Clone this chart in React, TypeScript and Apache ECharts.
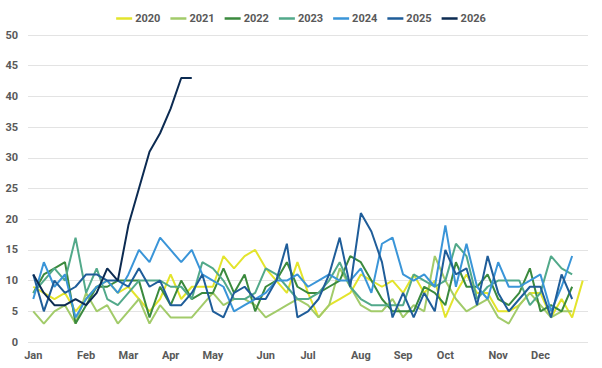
import React, { useEffect, useRef } from "react";
import * as echarts from "echarts";

const years = ["2020", "2021", "2022", "2023", "2024", "2025", "2026"];
const colors = ["#e3e42c", "#a2cb6a", "#3b8a3e", "#52a98a", "#3a95d8", "#1f5d99", "#0c2b52"];

const monthLabels = ["Jan", "Feb", "Mar", "Apr", "May", "Jun", "Jul", "Aug", "Sep", "Oct", "Nov", "Dec"];
const monthStartWeek = [0, 5, 9, 13, 17, 22, 26, 31, 35, 39, 44, 48];
const weekCount = 53;

const v2020 = [9, 8, 7, 8, 5, 7, 9, 10, 8, 9, 7, 5, 7, 11, 7, 9, 9, 9, 14, 12, 14, 15, 12, 10, 8, 13, 8, 4, 6, 7, 8, 11, 10, 9, 10, 8, 11, 8, 10, 4, 8, 11, 8, 8, 5, 5, 6, 8, 8, 4, 7, 4, 10];
const v2021 = [5, 3, 5, 6, 3, 8, 5, 6, 3, 5, 7, 3, 6, 4, 4, 4, 6, 8, 6, 7, 7, 6, 4, 5, 6, 7, 6, 4, 6, 12, 9, 6, 5, 5, 7, 4, 6, 5, 14, 10, 7, 5, 6, 7, 4, 3, 6, 8, 6, 4, 5, 5];
const v2022 = [8, 11, 12, 13, 3, 6, 9, 9, 10, 10, 10, 4, 9, 6, 10, 7, 8, 8, 12, 8, 11, 5, 9, 10, 13, 9, 8, 8, 9, 10, 14, 13, 10, 7, 5, 5, 5, 9, 8, 6, 13, 9, 9, 11, 7, 6, 8, 12, 5, 6, 5, 9];
const v2023 = [8, 10, 12, 10, 17, 8, 12, 7, 6, 8, 10, 10, 10, 9, 9, 7, 13, 12, 10, 7, 7, 8, 12, 11, 9, 7, 7, 8, 10, 13, 9, 7, 6, 6, 6, 6, 11, 10, 9, 10, 16, 14, 7, 9, 10, 10, 10, 6, 8, 14, 12, 11];
const v2024 = [7, 13, 9, 11, 4, 7, 9, 10, 8, 11, 15, 13, 17, 15, 13, 15, 11, 10, 9, 5, 6, 7, 8, 10, 10, 11, 9, 10, 11, 10, 10, 12, 8, 16, 17, 11, 10, 11, 9, 19, 9, 16, 9, 7, 13, 9, 9, 10, 11, 5, 9, 14];
const v2025 = [11, 5, 10, 8, 9, 11, 11, 10, 10, 9, 12, 9, 10, 6, 6, 8, 11, 5, 4, 8, 9, 7, 7, 10, 16, 4, 5, 7, 11, 17, 9, 21, 18, 13, 4, 8, 4, 8, 5, 15, 11, 12, 6, 14, 8, 5, 7, 9, 9, 4, 11, 7];
const v2026 = [11, 8, 6, 6, 7, 6, 8, 12, 10, 19, 25, 31, 34, 38, 43, 43];

const seriesValues = [v2020, v2021, v2022, v2023, v2024, v2025, v2026];

const yTicks = { min: 0, max: 50, interval: 5 };

export default function App() {
  const ref = useRef<HTMLDivElement>(null);
  useEffect(() => {
    if (!ref.current) return;
    const chart = echarts.init(ref.current, null, { renderer: "svg" });
    const categories: string[] = [];
    for (let i = 0; i < weekCount; i++) {
      const m = monthStartWeek.indexOf(i);
      categories.push(m >= 0 ? monthLabels[m] : "");
    }
    const labelStyle = { color: "#595959", fontFamily: "Roboto", fontWeight: "bold" as const, fontSize: 11 };
    chart.setOption({
      animation: false,
      color: colors,
      legend: {
        top: 8,
        left: "center",
        icon: "rect",
        itemWidth: 16,
        itemHeight: 2.5,
        itemGap: 10,
        textStyle: { ...labelStyle, padding: [0, 0, 0, -2] },
        data: years,
      },
      grid: { left: 28, right: 14, top: 35, bottom: 26 },
      xAxis: {
        type: "category",
        data: categories,
        boundaryGap: true,
        axisLine: { show: false },
        axisTick: { show: false },
        axisLabel: { ...labelStyle, interval: 0, margin: 8 },
        splitLine: { show: false },
      },
      yAxis: {
        type: "value",
        min: yTicks.min,
        max: yTicks.max,
        interval: yTicks.interval,
        axisLine: { show: false },
        axisTick: { show: false },
        axisLabel: { ...labelStyle, margin: 10 },
        splitLine: { lineStyle: { color: "#e3e3e3", width: 1 } },
      },
      series: years.map((y, k) => ({
        name: y,
        type: "line",
        data: seriesValues[k],
        symbol: "none",
        smooth: false,
        lineStyle: { width: 2, color: colors[k] },
        itemStyle: { color: colors[k] },
      })),
    });
    return () => chart.dispose();
  }, []);
  return <div ref={ref} style={{ width: 602, height: 368, position: "absolute", left: 0, top: 0 }} />;
}
